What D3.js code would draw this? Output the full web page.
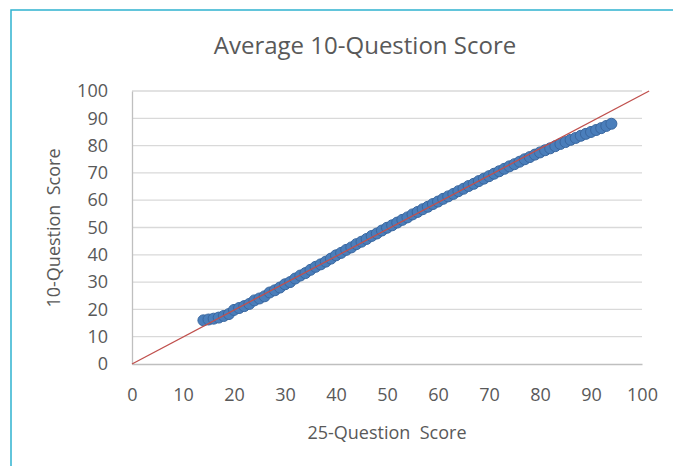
<!DOCTYPE html>
<html><head><meta charset="utf-8">
<script src="https://cdn.jsdelivr.net/npm/d3@7"></script>
<style>html,body{margin:0;padding:0;background:#fff;}svg{display:block;}text{white-space:pre;}</style>
</head><body>
<script>
const scoreX = [14,15,16,17,18,19,20,21,22,23,24,25,26,27,28,29,30,31,32,33,34,35,36,37,38,39,40,41,42,43,44,45,46,47,48,49,50,51,52,53,54,55,56,57,58,59,60,61,62,63,64,65,66,67,68,69,70,71,72,73,74,75,76,77,78,79,80,81,82,83,84,85,86,87,88,89,90,91,92,93,94];
const scoreY = [16.0,16.3,16.6,17.0,17.6,18.3,19.8,20.5,21.2,22.0,23.3,24.0,24.8,26.2,27.0,28.0,29.2,30.0,31.3,32.4,33.3,34.5,35.6,36.5,37.5,38.6,39.8,40.7,41.8,42.7,43.9,44.8,45.8,46.9,47.8,48.9,49.9,50.8,51.8,52.8,53.7,54.8,55.7,56.7,57.6,58.6,59.5,60.5,61.4,62.3,63.3,64.2,65.2,66.0,67.0,67.9,68.8,69.7,70.6,71.5,72.4,73.2,74.1,75.0,75.8,76.7,77.5,78.3,79.0,79.8,80.6,81.3,82.1,82.8,83.6,84.3,85.0,85.7,86.4,87.2,88.0];
const refLineX = [0, 101.4];
const refLineY = [0, 100];
const xTicks = [0,10,20,30,40,50,60,70,80,90,100];
const yTicks = [0,10,20,30,40,50,60,70,80,90,100];
const titleText = "Average 10-Question Score";
const xTitle = "25-Question  Score";
const yTitle = "10-Question  Score";

const W = 673, H = 466;
const svg = d3.select("body").append("svg").attr("width", W).attr("height", H);
const font = "'Open Sans', sans-serif";

// frame
svg.append("rect").attr("x", 11).attr("y", 10).attr("width", 700).attr("height", 500)
  .attr("fill", "none").attr("stroke", "#2fb3cf").attr("stroke-width", 1.5);

const x = d3.scaleLinear().domain([0,100]).range([132,642]);
const y = d3.scaleLinear().domain([0,100]).range([364,91]);

// gridlines
svg.append("g").selectAll("line").data(yTicks.filter(d=>d>0)).join("line")
  .attr("x1", x(0)).attr("x2", x(100)).attr("y1", d=>y(d)).attr("y2", d=>y(d))
  .attr("stroke", "#d9d9d9").attr("stroke-width", 1.3);

// axes
const xAxis = svg.append("g").attr("transform", `translate(0,${y(0)})`)
  .call(d3.axisBottom(x).tickValues(xTicks).tickSize(0).tickPadding(24));
const yAxis = svg.append("g").attr("transform", `translate(${x(0)},0)`)
  .call(d3.axisLeft(y).tickValues(yTicks).tickSize(0).tickPadding(24));
[xAxis, yAxis].forEach(a => {
  a.select(".domain").attr("stroke", "#bfbfbf").attr("stroke-width", 1.3);
  a.selectAll("text").attr("fill", "#595959").attr("font-size", 18).attr("font-family", font);
});

// points
svg.append("g").selectAll("circle").data(scoreX.map((d,i)=>[d, scoreY[i]])).join("circle")
  .attr("cx", d=>x(d[0])).attr("cy", d=>y(d[1])).attr("r", 5.5)
  .attr("fill", "#4a7ebb").attr("stroke", "#3a679f").attr("stroke-width", 1);

// reference line
svg.append("path").datum(refLineX.map((d,i)=>[d, refLineY[i]]))
  .attr("d", d3.line().x(d=>x(d[0])).y(d=>y(d[1])))
  .attr("stroke", "#c0504d").attr("stroke-width", 1.3).attr("fill", "none");

// titles
svg.append("text").attr("x", 365).attr("y", 54).attr("text-anchor", "middle")
  .attr("font-family", font).attr("font-size", 24).attr("fill", "#595959").text(titleText);
svg.append("text").attr("x", 387).attr("y", 439).attr("text-anchor", "middle")
  .attr("font-family", font).attr("font-size", 18).attr("fill", "#595959").text(xTitle);
svg.append("text").attr("transform", "translate(60,228) rotate(-90)").attr("text-anchor", "middle")
  .attr("font-family", font).attr("font-size", 18).attr("fill", "#595959").text(yTitle);
</script>
</body></html>
